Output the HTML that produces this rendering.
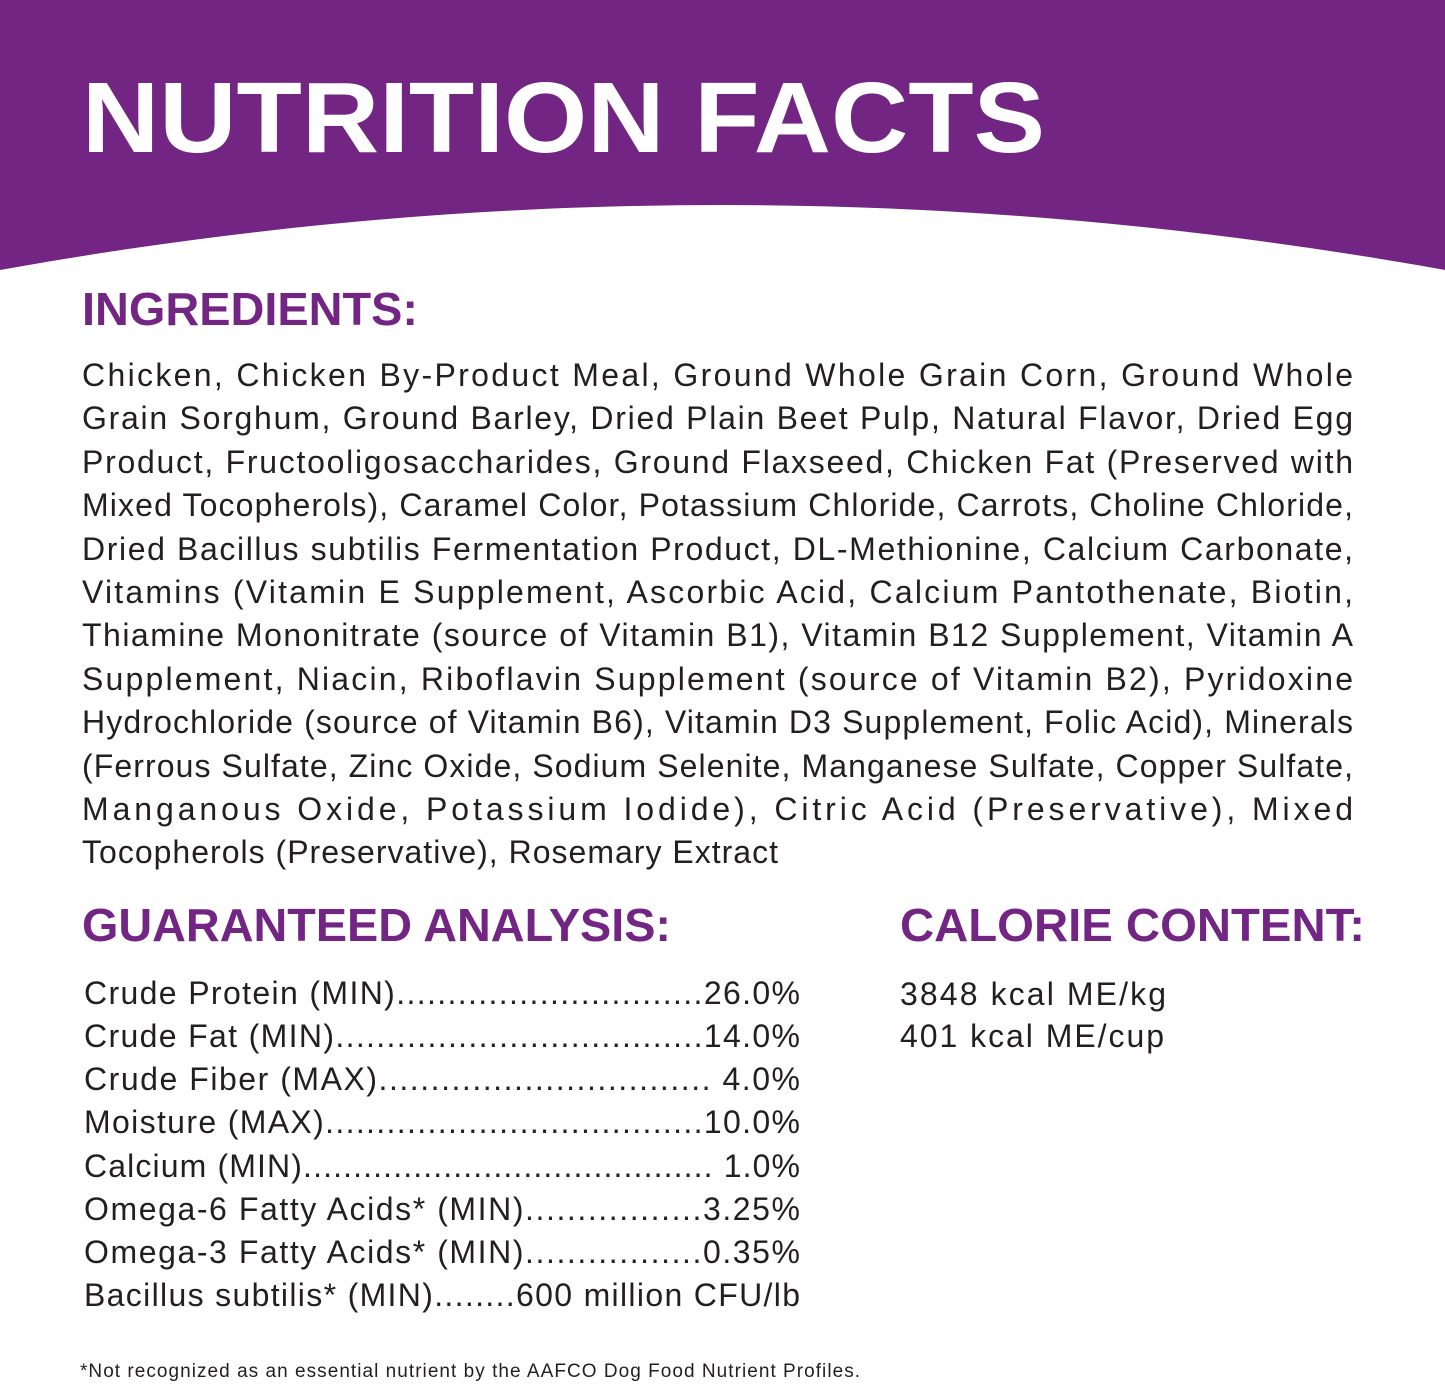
<!DOCTYPE html>
<html><head><meta charset="utf-8"><style>
html,body{margin:0;padding:0;background:#fff}
svg{display:block}
text{font-family:"Liberation Sans",sans-serif}
.b{font-size:32px;fill:#231f20}
.a{font-size:32px;fill:#231f20}
.h{font-size:46px;font-weight:bold;fill:#722582}
</style></head><body>
<svg width="1445" height="1384" viewBox="0 0 1445 1384" xmlns="http://www.w3.org/2000/svg">
<path d="M0,0 H1445 V270 Q722,140 0,270 Z" fill="#722582"/>
<text x="82" y="152" font-size="100" font-weight="bold" fill="#fff" textLength="963" lengthAdjust="spacingAndGlyphs">NUTRITION FACTS</text>
<text class="h" x="82" y="325" textLength="336" lengthAdjust="spacingAndGlyphs">INGREDIENTS:</text>
<g class="b">
<text class="b" x="82" y="386" textLength="1271" lengthAdjust="spacing">Chicken, Chicken By-Product Meal, Ground Whole Grain Corn, Ground Whole</text>
<text class="b" x="82" y="429" textLength="1271" lengthAdjust="spacing">Grain Sorghum, Ground Barley, Dried Plain Beet Pulp, Natural Flavor, Dried Egg</text>
<text class="b" x="82" y="473" textLength="1271" lengthAdjust="spacing">Product, Fructooligosaccharides, Ground Flaxseed, Chicken Fat (Preserved with</text>
<text class="b" x="82" y="516" textLength="1271" lengthAdjust="spacing">Mixed Tocopherols), Caramel Color, Potassium Chloride, Carrots, Choline Chloride,</text>
<text class="b" x="82" y="560" textLength="1271" lengthAdjust="spacing">Dried Bacillus subtilis Fermentation Product, DL-Methionine, Calcium Carbonate,</text>
<text class="b" x="82" y="603" textLength="1271" lengthAdjust="spacing">Vitamins (Vitamin E Supplement, Ascorbic Acid, Calcium Pantothenate, Biotin,</text>
<text class="b" x="82" y="646" textLength="1271" lengthAdjust="spacing">Thiamine Mononitrate (source of Vitamin B1), Vitamin B12 Supplement, Vitamin A</text>
<text class="b" x="82" y="690" textLength="1271" lengthAdjust="spacing">Supplement, Niacin, Riboflavin Supplement (source of Vitamin B2), Pyridoxine</text>
<text class="b" x="82" y="733" textLength="1271" lengthAdjust="spacing">Hydrochloride (source of Vitamin B6), Vitamin D3 Supplement, Folic Acid), Minerals</text>
<text class="b" x="82" y="777" textLength="1271" lengthAdjust="spacing">(Ferrous Sulfate, Zinc Oxide, Sodium Selenite, Manganese Sulfate, Copper Sulfate,</text>
<text class="b" x="82" y="820" textLength="1271" lengthAdjust="spacing">Manganous Oxide, Potassium Iodide), Citric Acid (Preservative), Mixed</text>
<text class="b" x="82" y="863" textLength="696" lengthAdjust="spacing">Tocopherols (Preservative), Rosemary Extract</text>
</g>
<text class="h" x="82" y="941" textLength="589" lengthAdjust="spacingAndGlyphs">GUARANTEED ANALYSIS:</text>
<text class="h" x="900" y="941" textLength="465" lengthAdjust="spacingAndGlyphs">CALORIE CONTENT:</text>
<text class="a" x="84" y="1004" textLength="716" lengthAdjust="spacing">Crude Protein (MIN)..............................26.0%</text>
<text class="a" x="84" y="1047" textLength="716" lengthAdjust="spacing">Crude Fat (MIN)....................................14.0%</text>
<text class="a" x="84" y="1090" textLength="716" lengthAdjust="spacing">Crude Fiber (MAX)................................ 4.0%</text>
<text class="a" x="84" y="1133" textLength="716" lengthAdjust="spacing">Moisture (MAX).....................................10.0%</text>
<text class="a" x="84" y="1177" textLength="716" lengthAdjust="spacing">Calcium (MIN)......................................... 1.0%</text>
<text class="a" x="84" y="1220" textLength="716" lengthAdjust="spacing">Omega-6 Fatty Acids* (MIN).................3.25%</text>
<text class="a" x="84" y="1263" textLength="716" lengthAdjust="spacing">Omega-3 Fatty Acids* (MIN).................0.35%</text>
<text class="a" x="84" y="1306" textLength="716" lengthAdjust="spacing">Bacillus subtilis* (MIN)........600 million CFU/lb</text>
<text class="a" x="900" y="1005" textLength="266" lengthAdjust="spacing">3848 kcal ME/kg</text>
<text class="a" x="900" y="1047" textLength="264" lengthAdjust="spacing">401 kcal ME/cup</text>
<text x="80" y="1377" font-size="19" fill="#231f20" textLength="780" lengthAdjust="spacing">*Not recognized as an essential nutrient by the AAFCO Dog Food Nutrient Profiles.</text>
</svg>
</body></html>
